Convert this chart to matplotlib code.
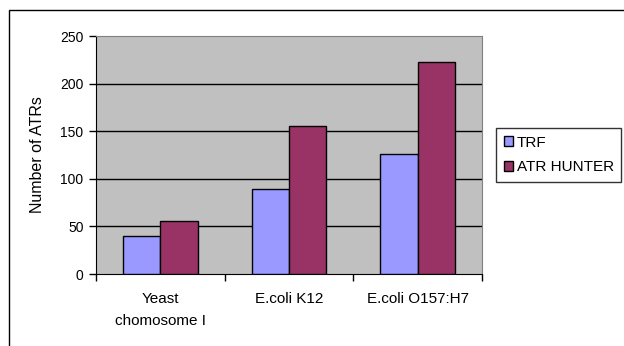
import numpy as np
import matplotlib.pyplot as plt
from matplotlib.patches import Rectangle

plt.rcParams['font.family'] = ['Liberation Sans', 'DejaVu Sans']

# ATR counts per genome
genomes = ['Yeast\nchomosome I', 'E.coli K12', 'E.coli O157:H7']
trf = [40, 89, 126]
atr_hunter = [56, 155, 223]
yticks = [0, 50, 100, 150, 200, 250]

fig = plt.figure(figsize=(6.24, 3.46), dpi=100)
ax = fig.add_axes([96 / 624, 72 / 346, 386 / 624, 238 / 346])
ax.set_facecolor('#C0C0C0')

x = np.arange(len(genomes))
w = 0.29
ax.bar(x - w / 2, trf, w, color='#9999FF', edgecolor='black', linewidth=1, label='TRF', zorder=3)
ax.bar(x + w / 2, atr_hunter, w, color='#993366', edgecolor='black', linewidth=1, label='ATR HUNTER', zorder=3)

ax.set_xlim(-0.5, len(genomes) - 0.5)
ax.set_ylim(0, 250)
ax.set_yticks(yticks)
ax.tick_params(axis='y', direction='out', length=5, width=1, labelsize=10, pad=4)
for y in yticks[1:-1]:
    ax.axhline(y, color='black', linewidth=1, zorder=1)

# labels centred on categories, tick marks on the boundaries
ax.set_xticks(x)
ax.set_xticklabels(genomes, fontsize=11, linespacing=1.75)
ax.set_xticks(np.arange(len(genomes) + 1) - 0.5, minor=True)
ax.tick_params(axis='x', which='major', length=0, pad=13)
ax.tick_params(axis='x', which='minor', direction='out', length=5, width=1)

ax.spines['left'].set_color('black')
ax.spines['bottom'].set_color('black')
ax.spines['top'].set_color('#808080')
ax.spines['right'].set_color('#808080')

ax.set_ylabel('Number of ATRs', fontsize=11.5, labelpad=11)

leg = ax.legend(loc='upper left', bbox_to_anchor=(496 / 624, 1 - 128 / 346),
                bbox_transform=fig.transFigure, fontsize=11, frameon=True,
                fancybox=False, handlelength=0.6, handleheight=0.6,
                handletextpad=0.25, borderpad=0.5, labelspacing=0.7,
                borderaxespad=0)
leg.get_frame().set_edgecolor('black')
leg.get_frame().set_linewidth(1)

# outer chart border
fig.patches.append(Rectangle((9 / 624, -0.1), 1.2, 1 - 10 / 346 + 0.1,
                             transform=fig.transFigure, fill=False,
                             edgecolor='black', linewidth=1))

fig.savefig('out.png', dpi=100)
